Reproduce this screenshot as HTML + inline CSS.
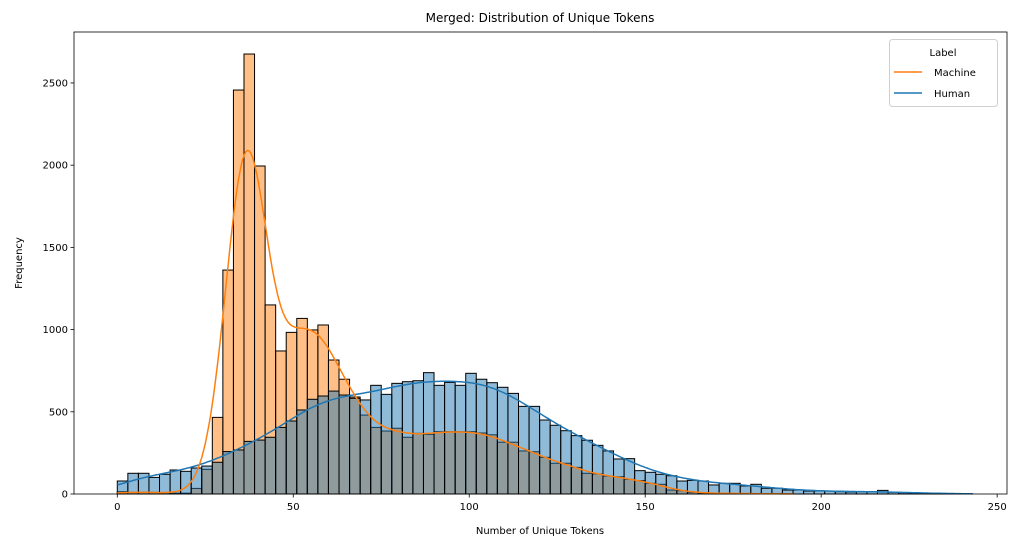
<!DOCTYPE html>
<html><head><meta charset="utf-8"><style>
body{margin:0;background:#fff;}
svg text{font-family:"DejaVu Sans","Liberation Sans",sans-serif;}
</style></head><body>
<svg id="chart" width="1020" height="547" xmlns="http://www.w3.org/2000/svg">
<text x="540" y="22" font-size="12" text-anchor="middle">Merged: Distribution of Unique Tokens</text>
<text x="540" y="534" font-size="10" text-anchor="middle">Number of Unique Tokens</text>
<text x="22" y="263" font-size="10" text-anchor="middle" transform="rotate(-90 22 263)">Frequency</text>
<g id="bars"></g>
<g id="kde"></g>
<g id="axes"></g>
<g>
<rect x="889.5" y="39.5" width="108" height="67" rx="3" fill="#fff" stroke="#ccc" opacity="0.9"/>
<text x="943" y="56" font-size="10" text-anchor="middle">Label</text>
<line x1="894" y1="72" x2="922" y2="72" stroke="#ff7f0e" stroke-width="1.5"/>
<text x="934" y="76" font-size="10">Machine</text>
<line x1="894" y1="93" x2="922" y2="93" stroke="#1f77b4" stroke-width="1.5"/>
<text x="934" y="97" font-size="10">Human</text>
</g>
</svg>
<script>
const binWidth = 3;
const humanCounts = [79,126,126,101,120,146,138,158,170,193,258,268,320,328,345,405,444,511,576,596,626,602,582,572,661,606,673,683,689,738,661,679,661,734,698,677,649,612,533,533,450,418,385,355,327,296,262,213,215,142,132,120,111,79,83,79,55,65,65,49,59,35,35,24,24,18,18,18,14,12,14,14,22,10,8,6,5,4,3,2,1];
const machineCounts = [14,10,10,10,8,5,5,34,150,466,1362,2457,2676,1995,1150,870,983,1068,998,1028,815,698,590,480,405,383,400,345,369,363,379,379,379,379,371,360,315,315,262,257,223,187,187,162,126,122,109,105,89,82,65,59,24,20,10,6,5,4,3,3,2,1,1,1,0,0,0,0,0,0,0,0,0,0,0,0,0,0,0,0,0];
const xTicks = [0,50,100,150,200,250];
const yTicks = [0,500,1000,1500,2000,2500];

const L=74,R=1007,T=32,B=494;
const xMin=-12.3,xMax=252.8,yMax=2810;
const X=v=>L+(v-xMin)/(xMax-xMin)*(R-L);
const Y=v=>B-v/yMax*(B-T);
const NS='http://www.w3.org/2000/svg';
function mk(tag,parent,attrs){const e=document.createElementNS(NS,tag);for(const k in attrs)e.setAttribute(k,attrs[k]);parent.appendChild(e);return e;}
const bars=document.getElementById('bars'),kde=document.getElementById('kde'),axes=document.getElementById('axes');

function drawBars(counts,color,name){
  counts.forEach((c,i)=>{
    if(c<=0)return;
    const x0=X(i*binWidth),x1=X((i+1)*binWidth);
    const r=mk('rect',bars,{x:x0,y:Y(c),width:x1-x0,height:Y(0)-Y(c),fill:color,'fill-opacity':0.5,stroke:'#000','stroke-width':1});
    
    
  });
}
drawBars(machineCounts,'#ff7f0e','machine');
drawBars(humanCounts,'#1f77b4','human');

function drawKde(counts,sigma,color,name){
  let lastBin=0;counts.forEach((c,i)=>{if(c>0)lastBin=i;});
  const lo=0,hi=(lastBin+1)*binWidth;
  let d='';
  for(let x=lo;x<=hi;x+=0.5){
    let s=0,w=0;
    counts.forEach((c,i)=>{const cx=(i+0.5)*binWidth;const g=Math.exp(-((x-cx)**2)/(2*sigma*sigma));s+=c*g;});
    for(let k=-50;k<=50;k++){w+=Math.exp(-((k*binWidth)**2)/(2*sigma*sigma));}
    const v=s/w;
    d+=(d?'L':'M')+X(x).toFixed(1)+','+Y(v).toFixed(1);
  }
  const p=mk('path',kde,{d:d,fill:'none',stroke:color,'stroke-width':1.5});
  
  
}
drawKde(humanCounts,8,'#1f77b4','human');
drawKde(machineCounts,4,'#ff7f0e','machine');

const frame=mk('rect',axes,{x:L,y:T,width:R-L,height:B-T,fill:'none',stroke:'#000','stroke-width':0.8});


xTicks.forEach(t=>{
  const tk=mk('line',axes,{x1:X(t),x2:X(t),y1:B,y2:B+3.5,stroke:'#000','stroke-width':0.8});
  
  
  const tx=mk('text',axes,{x:X(t),y:B+16,'font-size':10,'text-anchor':'middle'});
  tx.textContent=t;
  
  
});
yTicks.forEach(t=>{
  const tk=mk('line',axes,{x1:L-3.5,x2:L,y1:Y(t),y2:Y(t),stroke:'#000','stroke-width':0.8});
  
  
  const tx=mk('text',axes,{x:L-6,y:Y(t)+3.5,'font-size':10,'text-anchor':'end'});
  tx.textContent=t;
  
  
});
</script>
</body></html>
